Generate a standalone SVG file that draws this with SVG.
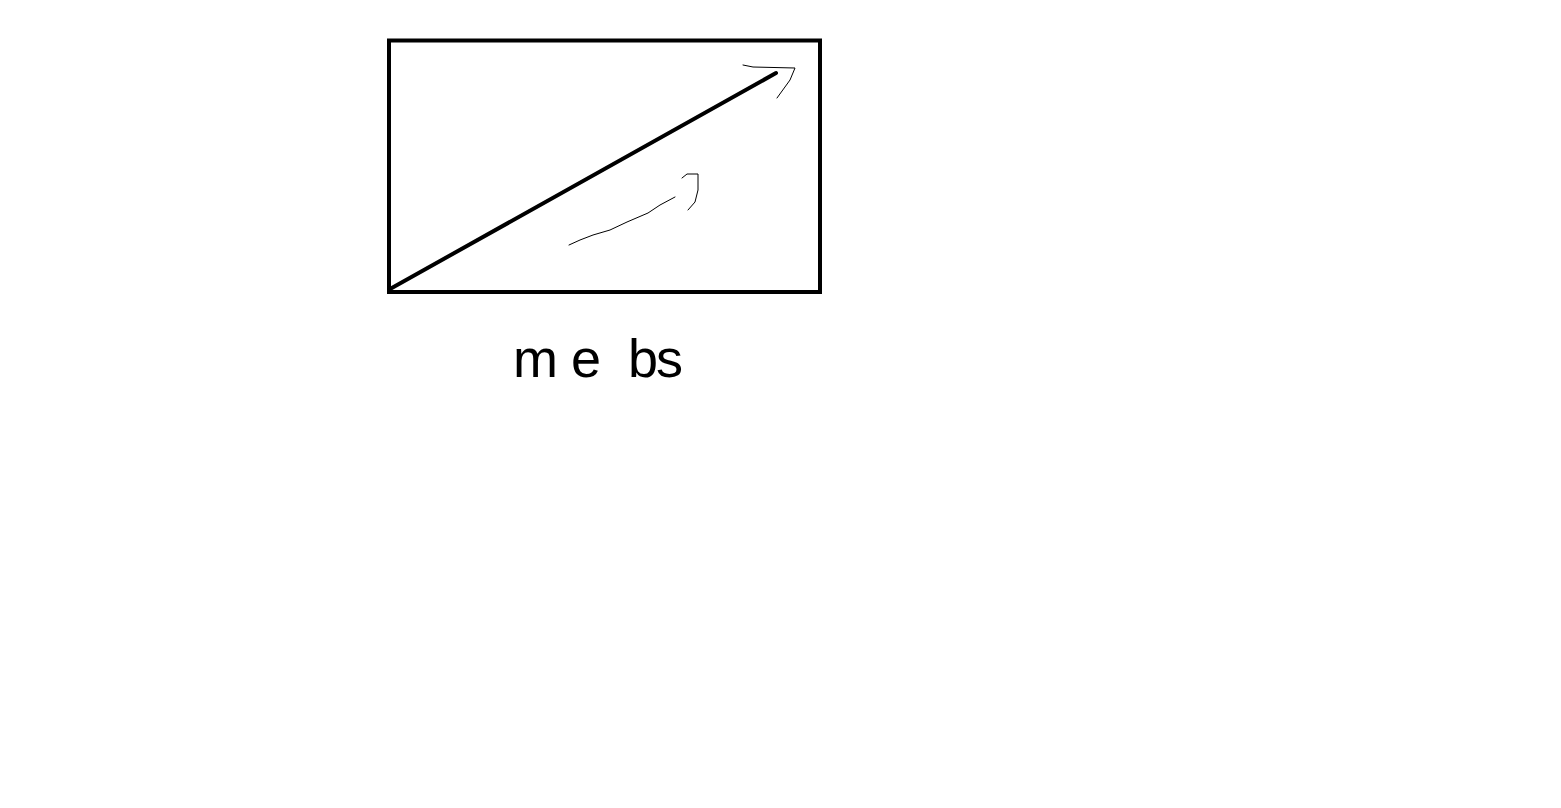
<svg xmlns="http://www.w3.org/2000/svg" width="1561" height="808" viewBox="0 0 1561 808">
<style>
.thick{fill:none;stroke:#000;stroke-width:4}
.thin{fill:none;stroke:#000;stroke-width:1;stroke-linejoin:round;stroke-linecap:round}
.lbl{font-family:"Liberation Sans",Arial,sans-serif;font-size:54px;fill:#000}
</style>
<rect width="1561" height="808" fill="#fff"/>
<g id="frame">
<rect class="thick" x="389" y="40.5" width="431" height="251.5"/>
</g>
<g id="connectors">
<line class="thick" x1="390" y1="289" x2="776" y2="73" stroke-linecap="round"/>
<polyline class="thin" points="743,65 753,67 795,68 790,80 777,98"/>
<polyline class="thin" points="569,245 580,240 593,235 610,230 627,222 648,213 660,205 675,197"/>
<polyline class="thin" points="682,178 687,174 698,174 698,190 695,202 688,210"/>
</g>
<g id="label">
<text class="lbl" x="513 571 610 628 656" y="377">me bs</text>
</g>
</svg>
